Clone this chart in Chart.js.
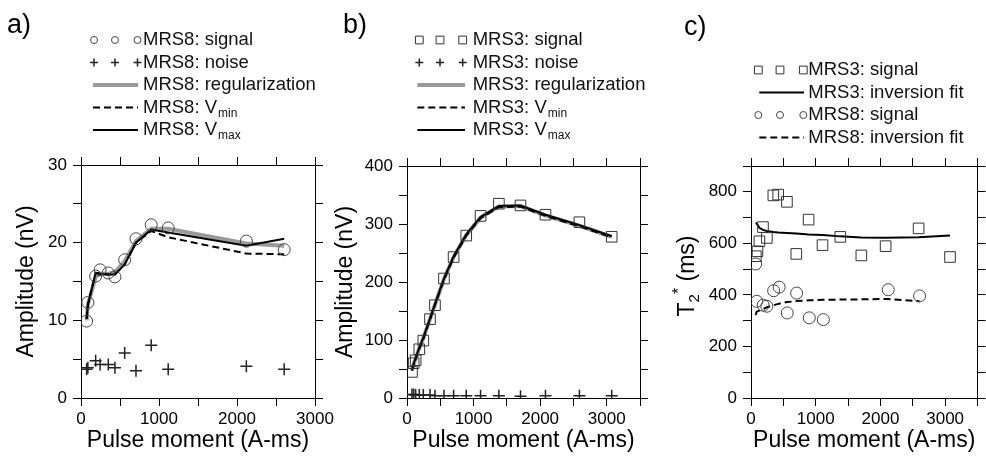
<!DOCTYPE html>
<html>
<head>
  <meta charset="UTF-8" />
  <title>MRS signal, noise and T2* fits</title>
  <script src="https://cdn.jsdelivr.net/npm/chart.js"></script>
  <style>
    body { margin: 0; background: #fff; width: 986px; height: 456px; overflow: hidden; position: relative; }
    canvas { position: absolute; top: 0; }
  </style>
</head>
<body>
  <canvas id="ca" width="345" height="456" style="left:0"></canvas>
  <canvas id="cb" width="345" height="456" style="left:330px"></canvas>
  <canvas id="cc" width="326" height="456" style="left:660px"></canvas>
  <script>
    // MRS8 pulse moments (A-ms) and amplitudes (nV)
    const q8 = [72, 88, 188, 245, 350, 435, 560, 705, 900, 1118, 2120, 2605];
    const sig8 = [9.9, 12.3, 15.7, 16.5, 16.1, 15.6, 17.8, 20.5, 22.3, 21.9, 20.2, 19.1];
    const noise8 = [3.7, 3.9, 4.8, 4.3, 4.3, 3.9, 5.8, 3.5, 6.8, 3.7, 4.1, 3.7];
    const reg8 = [10.0, 12.0, 15.6, 16.0, 16.0, 16.2, 17.6, 20.2, 21.8, 21.8, 19.9, 19.6];
    const vmin8 = [10.2, 12.0, 16.1, 16.0, 15.9, 15.9, 17.2, 20.0, 21.5, 20.7, 18.6, 18.5];
    const vmax8 = [10.2, 12.0, 16.1, 16.0, 15.9, 15.9, 17.2, 20.0, 21.7, 21.3, 19.6, 20.5];

    // MRS3 pulse moments (A-ms) and amplitudes (nV)
    const q3 = [75, 100, 130, 185, 245, 345, 420, 555, 700, 890, 1105, 1380, 1705, 2080, 2590, 3075];
    const sig3 = [45, 60, 65, 84, 99, 136, 160, 206, 243, 280, 314, 335, 332, 316, 303, 278];
    const noise3 = [6, 6, 5, 5, 5, 5, 4, 4, 4, 4, 4, 4, 3, 4, 4, 4];
    const reg3 = [48, 58, 68, 86, 103, 136, 161, 205, 243, 281, 311, 330, 331, 315, 297, 278];
    const vmin3 = [47, 57, 67, 85, 102, 135, 160, 204, 242, 280, 310, 329, 330, 314, 296, 277];
    const vmax3 = [48, 59, 69, 87, 104, 137, 162, 206, 244, 282, 312, 331, 332, 316, 298, 279];

    // T2* (ms)
    const t2sig3 = [550, 569, 608, 663, 621, 786, 789, 761, 559, 692, 593, 625, 553, 589, 658, 547];
    const t2fit3 = [680, 672, 660, 652, 648, 644, 642, 640, 638, 634, 632, 627, 623, 622, 624, 630];
    const t2sig8 = [520, 375, 360, 356, 416, 430, 330, 407, 311, 304, 420, 396];
    const t2fit8 = [322, 335, 345, 352, 360, 366, 372, 376, 379, 381, 384, 375];

    const FONT = '"Liberation Sans", Arial, sans-serif';
    const pts = (xs, ys) => xs.map((x, i) => ({ x, y: ys[i] }));

    function mark(ctx, style, x, y, r) {
      ctx.beginPath();
      if (style === 'circle') ctx.arc(x, y, r, 0, Math.PI * 2);
      else if (style === 'rect') { const s = r * Math.SQRT1_2; ctx.rect(x - s, y - s, 2 * s, 2 * s); }
      else { ctx.moveTo(x - r, y); ctx.lineTo(x + r, y); ctx.moveTo(x, y - r); ctx.lineTo(x, y + r); }
      ctx.stroke();
    }

    // panel tag, legend with repeated markers, and the T2* axis title
    const deco = {
      id: 'panelDeco',
      afterDraw(chart, args, o) {
        const ctx = chart.ctx;
        ctx.save();
        ctx.fillStyle = '#000';
        ctx.font = '27px ' + FONT;
        ctx.textBaseline = 'alphabetic';
        ctx.fillText(o.tag, o.tagX, o.tagY);
        chart.data.datasets.forEach((ds, i) => {
          const y = o.top + i * o.rowH;
          ctx.strokeStyle = ds.borderColor;
          if (ds.showLine) {
            ctx.lineWidth = ds.borderWidth;
            ctx.setLineDash(ds.borderDash || []);
            ctx.beginPath(); ctx.moveTo(o.lineX[0], y); ctx.lineTo(o.lineX[1], y); ctx.stroke();
            ctx.setLineDash([]);
          } else {
            ctx.lineWidth = ds.pointBorderWidth;
            o.markX.forEach(mx => mark(ctx, ds.pointStyle, mx, y, o.markR[ds.pointStyle]));
          }
          ctx.fillStyle = '#111';
          ctx.font = '18.5px ' + FONT;
          ctx.textBaseline = 'middle';
          ctx.fillText(ds.label, o.textX, y);
          if (ds.labelSub) {
            const w = ctx.measureText(ds.label).width;
            ctx.font = '12px ' + FONT;
            ctx.fillText(ds.labelSub, o.textX + w + 1, y + 6);
          }
        });
        if (o.yTitle) {
          const parts = o.yTitle;
          ctx.translate(o.yTitleX, o.yTitleY);
          ctx.rotate(-Math.PI / 2);
          ctx.fillStyle = '#000';
          ctx.textBaseline = 'middle';
          let total = 0;
          parts.forEach(p => { ctx.font = p.size + 'px ' + FONT; p.w = ctx.measureText(p.t).width; total += p.w; });
          let x = -total / 2;
          parts.forEach(p => { ctx.font = p.size + 'px ' + FONT; ctx.fillText(p.t, x, p.dy || 0); x += p.w; });
        }
        ctx.restore();
      }
    };
    Chart.register(deco);

    function axis(pos, max, step, every, size, title, titlePad) {
      const isX = pos === 'bottom' || pos === 'top';
      const main = pos === 'bottom' || pos === 'left';
      return {
        type: 'linear', position: pos, min: 0, max,
        ticks: {
          display: main, stepSize: step, autoSkip: false, maxRotation: 0, minRotation: 0,
          padding: isX ? 3 : 6, color: '#000', font: { size: 17, family: FONT },
          callback: v => (v % every === 0 ? String(v) : '')
        },
        grid: { drawOnChartArea: false, drawTicks: true, tickLength: 8, color: '#000', lineWidth: 1 },
        border: { display: true, color: '#000', width: 1 },
        title: {
          display: !!title, text: title || '', color: '#000', font: { size: 23, family: FONT },
          padding: isX ? { top: 0, bottom: titlePad } : { top: titlePad, bottom: 0 }
        },
        afterFit: s => { if (isX) s.height = size; else s.width = size; }
      };
    }

    function panel(id, box, xMax, yMax, yStep, yEvery, yTitle, yPad, datasets, deco) {
      const canvas = document.getElementById(id);
      const W = canvas.width, H = canvas.height;
      return new Chart(canvas, {
        type: 'scatter',
        data: { datasets },
        options: {
          responsive: false, animation: false, events: [],
          layout: { padding: 0 },
          scales: {
            x: axis('bottom', xMax, 500, 1000, H - box.B, 'Pulse moment (A-ms)', 2),
            x2: axis('top', xMax, 500, 1000, box.T),
            y: axis('left', yMax, yStep, yEvery, box.L, yTitle, yPad),
            y2: axis('right', yMax, yStep, yEvery, W - box.R)
          },
          plugins: { legend: { display: false }, tooltip: { enabled: false }, panelDeco: deco }
        }
      });
    }

    const circle = (label, data) => ({ label, data, order: 1, pointStyle: 'circle', pointRadius: 6,
      borderColor: '#444', pointBorderColor: '#444', pointBorderWidth: 1, backgroundColor: 'rgba(0,0,0,0)', showLine: false });
    const square = (label, data) => ({ label, data, order: 1, pointStyle: 'rect', pointRadius: 7.5,
      borderColor: '#333', pointBorderColor: '#333', pointBorderWidth: 1, backgroundColor: 'rgba(0,0,0,0)', showLine: false });
    const cross = (label, data) => ({ label, data, order: 2, pointStyle: 'cross', pointRadius: 6,
      borderColor: '#222', pointBorderColor: '#222', pointBorderWidth: 1.5, showLine: false });
    const line = (label, data, color, width, dash, sub, order) => ({ label, labelSub: sub, data, order: order || 3,
      showLine: true, borderColor: color, borderWidth: width, borderDash: dash, pointRadius: 0, tension: 0, fill: false });

    panel('ca', { L: 81, R: 315, T: 165, B: 398 }, 3000, 30, 5, 10, 'Amplitude (nV)', 13, [
      circle('MRS8: signal', pts(q8, sig8)),
      cross('MRS8: noise', pts(q8, noise8)),
      line('MRS8: regularization', pts(q8, reg8), '#9a9a9a', 4, [], null, 5),
      line('MRS8: V', pts(q8, vmin8), '#000', 2, [7, 4], 'min'),
      line('MRS8: V', pts(q8, vmax8), '#000', 2, [], 'max')
    ], { tag: 'a)', tagX: 7, tagY: 33, top: 40, rowH: 22.5, markX: [94, 115, 137.5], lineX: [93, 138],
         markR: { circle: 3.5, cross: 4, rect: 5.5 }, textX: 143 });

    panel('cb', { L: 77, R: 310, T: 166, B: 398 }, 3500, 400, 50, 100, 'Amplitude (nV)', 2, [
      square('MRS3: signal', pts(q3, sig3)),
      cross('MRS3: noise', pts(q3, noise3)),
      line('MRS3: regularization', pts(q3, reg3), '#9a9a9a', 4, [], null, 5),
      line('MRS3: V', pts(q3, vmin3), '#000', 2, [7, 4], 'min'),
      line('MRS3: V', pts(q3, vmax3), '#000', 2, [], 'max')
    ], { tag: 'b)', tagX: 13, tagY: 33, top: 40, rowH: 22.5, markX: [89.3, 110, 132.7], lineX: [87.3, 135],
         markR: { circle: 3.5, cross: 4, rect: 5.5 }, textX: 142.7 });

    panel('cc', { L: 91, R: 325, T: 166, B: 398 }, 3500, 900, 100, 200, null, 0, [
      square('MRS3: signal', pts(q3, t2sig3)),
      line('MRS3: inversion fit', pts(q3, t2fit3), '#000', 2, []),
      circle('MRS8: signal', pts(q8, t2sig8)),
      line('MRS8: inversion fit', pts(q8, t2fit8), '#000', 2, [7, 4])
    ], { tag: 'c)', tagX: 24, tagY: 35, top: 70, rowH: 22.5, markX: [98.3, 120, 143.3], lineX: [99.3, 144],
         markR: { circle: 3.5, cross: 4, rect: 5.5 }, textX: 148.3,
         yTitle: [{ t: 'T', size: 23 }, { t: '2', size: 15, dy: 7 }, { t: '*', size: 16, dy: -8 }, { t: ' (ms)', size: 23 }],
         yTitleX: 28, yTitleY: 276 });
  </script>
</body>
</html>
